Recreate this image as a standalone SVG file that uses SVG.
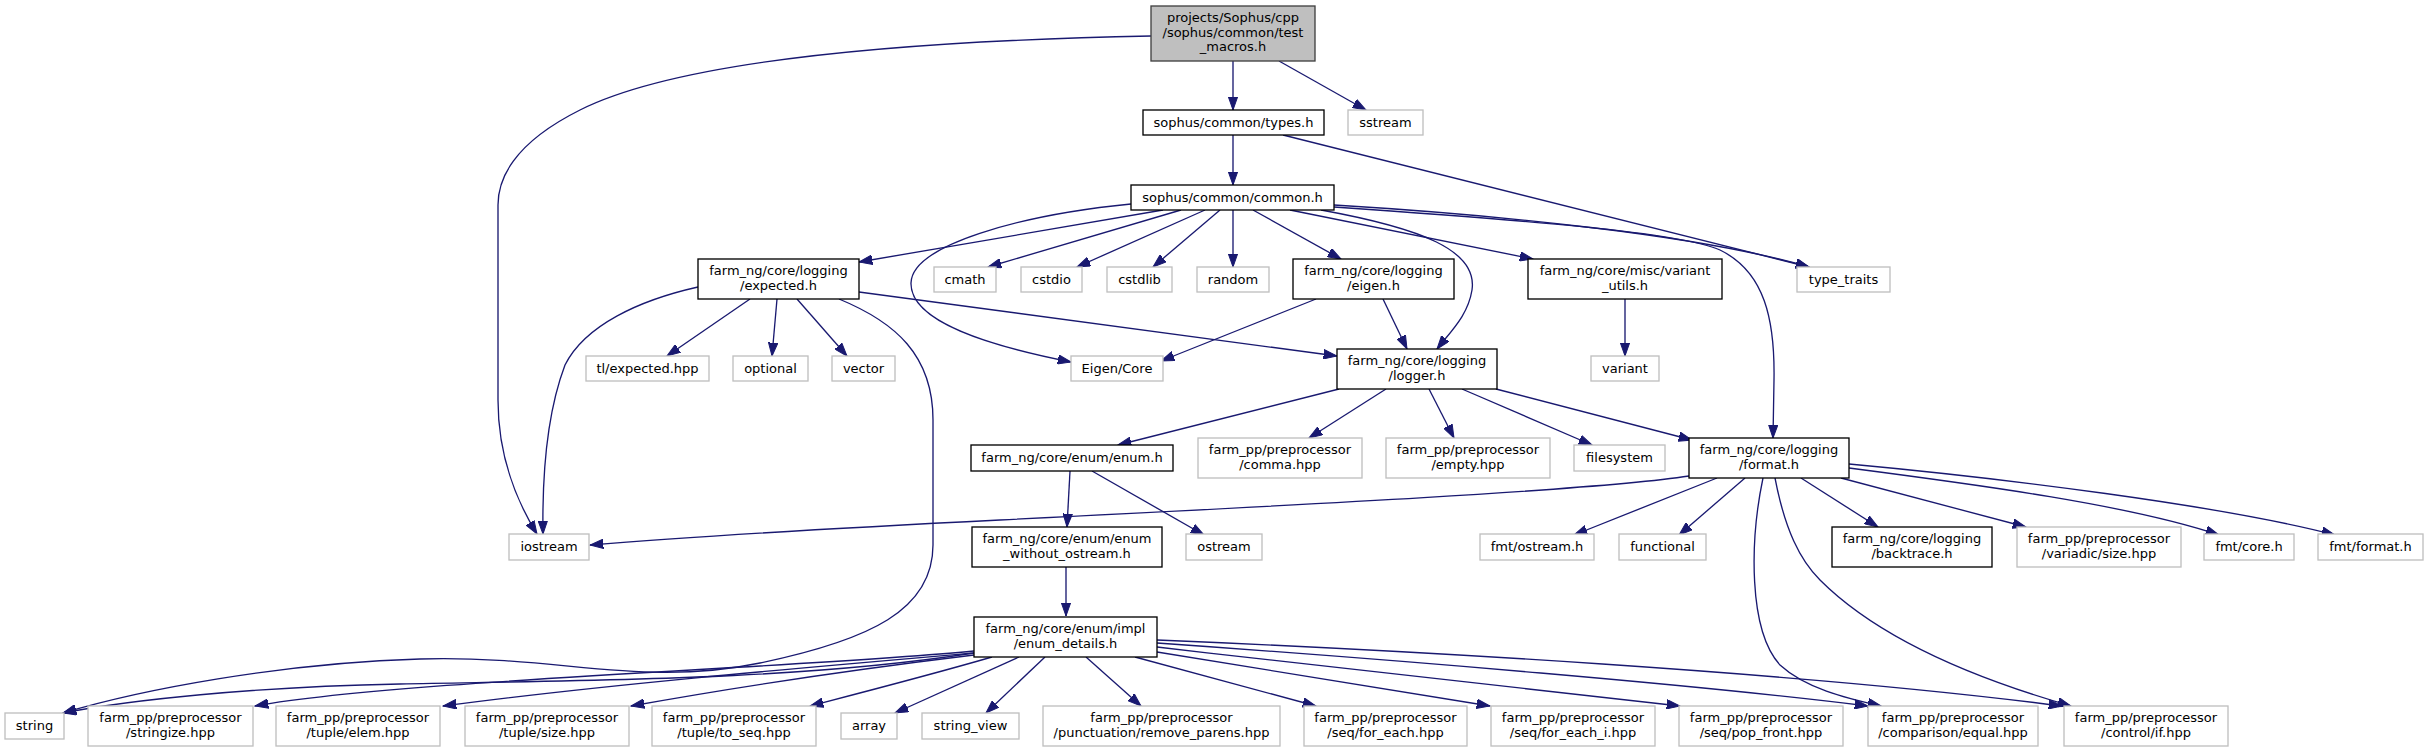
<svg xmlns="http://www.w3.org/2000/svg" width="2429" height="752" viewBox="0 0 2429 752">
<style>
.n rect{fill:#ffffff;stroke:#000000;stroke-width:1.33}
.g rect{fill:#ffffff;stroke:#bfbfbf;stroke-width:1.33}
.r rect{fill:#bfbfbf;stroke:#404040;stroke-width:1.33}
text{font-family:"DejaVu Sans","Liberation Sans",sans-serif;font-size:13px;fill:#000000;text-anchor:middle}
#edges path{fill:none;stroke:#191970;stroke-width:1.33;marker-end:url(#ah)}
</style>
<defs>
<marker id="ah" markerWidth="14" markerHeight="10" refX="13.3" refY="5" orient="auto" markerUnits="userSpaceOnUse">
<path d="M0,0.3 L13.3,5 L0,9.7 z" fill="#191970" stroke="#191970" stroke-width="1"/>
</marker>
</defs>
<rect width="2429" height="752" fill="#ffffff"/>
<g id="edges">
<path d="M1233,61 L1233,110"/>
<path d="M1279,61 L1366,110"/>
<path d="M1151,36 C1000,39 700,50 580,110 C512,144 498,180 498,205 L498,400 C498,455 516,500 537,534"/>
<path d="M1233,135 L1233,185"/>
<path d="M1283,135 L1809,267"/>
<path d="M1163,210 L859,262"/>
<path d="M1131,204 C1020,215 912,245 911,283 C910,322 990,346 1071,362"/>
<path d="M1181,210 L988,267"/>
<path d="M1205,210 L1077,267"/>
<path d="M1220,210 L1153,267"/>
<path d="M1233,210 L1233,267"/>
<path d="M1253,210 L1341,259"/>
<path d="M1321,210 C1420,228 1478,250 1472,290 C1468,315 1452,330 1437,349"/>
<path d="M1290,210 L1533,259"/>
<path d="M1334,205 C1500,215 1700,235 1809,267"/>
<path d="M1334,207 C1520,220 1680,232 1720,250 C1765,272 1775,320 1774,380 L1773,438"/>
<path d="M750,299 L667,356"/>
<path d="M777,299 L772,356"/>
<path d="M797,299 L847,356"/>
<path d="M859,292 L1337,356"/>
<path d="M698,287 C640,300 585,325 565,365 C548,410 542,470 543,534"/>
<path d="M839,299 C895,322 933,355 933,420 L933,545 C933,610 870,640 760,663 C640,688 560,655 420,659 C280,663 140,690 63,713"/>
<path d="M1316,299 L1161,361"/>
<path d="M1383,299 L1407,349"/>
<path d="M1625,299 L1625,356"/>
<path d="M1339,389 L1118,445"/>
<path d="M1386,389 L1309,438"/>
<path d="M1429,389 L1454,438"/>
<path d="M1462,389 L1592,445"/>
<path d="M1496,389 L1692,440"/>
<path d="M1070,471 L1067,527"/>
<path d="M1092,471 L1204,535"/>
<path d="M1066,567 L1066,616"/>
<path d="M1689,476 C1600,490 1300,505 1000,520 C800,530 650,540 590,545"/>
<path d="M1717,478 L1574,535"/>
<path d="M1745,478 L1679,535"/>
<path d="M1801,478 L1878,527"/>
<path d="M1841,478 L2026,527"/>
<path d="M1849,468 C1980,485 2130,505 2219,535"/>
<path d="M1849,464 C2000,478 2220,505 2335,535"/>
<path d="M1763,478 C1750,540 1748,630 1780,665 C1805,688 1845,698 1881,706"/>
<path d="M1775,478 C1785,530 1800,560 1820,580 C1880,640 1980,680 2071,706"/>
<path d="M974,653 C800,680 600,680 400,684 C250,687 130,700 63,713"/>
<path d="M974,651 C800,668 400,680 255,706"/>
<path d="M974,653 C800,668 600,685 443,706"/>
<path d="M974,655 C850,670 720,690 631,706"/>
<path d="M992,657 C930,675 860,693 810,706"/>
<path d="M1019,657 L895,713"/>
<path d="M1045,657 L986,713"/>
<path d="M1086,657 L1141,706"/>
<path d="M1135,657 L1316,706"/>
<path d="M1157,652 L1490,706"/>
<path d="M1157,647 C1350,670 1550,690 1680,706"/>
<path d="M1157,643 C1400,660 1700,685 1868,706"/>
<path d="M1157,640 C1400,650 1800,672 2062,706"/>
</g>
<g id="test_macros" class="r"><rect x="1151" y="6" width="164" height="55"/><text x="1233" y="22">projects/Sophus/cpp</text><text x="1233" y="36.7">/sophus/common/test</text><text x="1233" y="51.3">_macros.h</text></g>
<g id="types" class="n"><rect x="1143" y="110" width="181" height="25"/><text x="1233.5" y="126.5">sophus/common/types.h</text></g>
<g id="sstream" class="g"><rect x="1348" y="110" width="75" height="25"/><text x="1385.5" y="126.5">sstream</text></g>
<g id="common" class="n"><rect x="1131" y="185" width="203" height="25"/><text x="1232.5" y="201.5">sophus/common/common.h</text></g>
<g id="expected" class="n"><rect x="698" y="259" width="161" height="40"/><text x="778.5" y="275.3">farm_ng/core/logging</text><text x="778.5" y="290">/expected.h</text></g>
<g id="cmath" class="g"><rect x="934" y="267" width="62" height="25"/><text x="965" y="283.5">cmath</text></g>
<g id="cstdio" class="g"><rect x="1021" y="267" width="61" height="25"/><text x="1051.5" y="283.5">cstdio</text></g>
<g id="cstdlib" class="g"><rect x="1107" y="267" width="65" height="25"/><text x="1139.5" y="283.5">cstdlib</text></g>
<g id="random" class="g"><rect x="1197" y="267" width="72" height="25"/><text x="1233" y="283.5">random</text></g>
<g id="eigen_h" class="n"><rect x="1293" y="259" width="161" height="40"/><text x="1373.5" y="275.3">farm_ng/core/logging</text><text x="1373.5" y="290">/eigen.h</text></g>
<g id="variant_utils" class="n"><rect x="1528" y="259" width="194" height="40"/><text x="1625" y="275.3">farm_ng/core/misc/variant</text><text x="1625" y="290">_utils.h</text></g>
<g id="type_traits" class="g"><rect x="1797" y="267" width="93" height="25"/><text x="1843.5" y="283.5">type_traits</text></g>
<g id="tl_expected" class="g"><rect x="586" y="356" width="123" height="25"/><text x="647.5" y="372.5">tl/expected.hpp</text></g>
<g id="optional" class="g"><rect x="733" y="356" width="75" height="25"/><text x="770.5" y="372.5">optional</text></g>
<g id="vector" class="g"><rect x="832" y="356" width="63" height="25"/><text x="863.5" y="372.5">vector</text></g>
<g id="eigen_core" class="g"><rect x="1071" y="356" width="92" height="25"/><text x="1117" y="372.5">Eigen/Core</text></g>
<g id="variant" class="g"><rect x="1591" y="356" width="68" height="25"/><text x="1625" y="372.5">variant</text></g>
<g id="logger" class="n"><rect x="1337" y="349" width="160" height="40"/><text x="1417" y="365.3">farm_ng/core/logging</text><text x="1417" y="380">/logger.h</text></g>
<g id="enum_h" class="n"><rect x="971" y="445" width="202" height="26"/><text x="1072" y="462">farm_ng/core/enum/enum.h</text></g>
<g id="comma" class="g"><rect x="1198" y="438" width="164" height="40"/><text x="1280" y="454.3">farm_pp/preprocessor</text><text x="1280" y="469">/comma.hpp</text></g>
<g id="empty" class="g"><rect x="1386" y="438" width="164" height="40"/><text x="1468" y="454.3">farm_pp/preprocessor</text><text x="1468" y="469">/empty.hpp</text></g>
<g id="filesystem" class="g"><rect x="1574" y="445" width="91" height="26"/><text x="1619.5" y="462">filesystem</text></g>
<g id="format_h" class="n"><rect x="1689" y="438" width="160" height="40"/><text x="1769" y="454.3">farm_ng/core/logging</text><text x="1769" y="469">/format.h</text></g>
<g id="iostream" class="g"><rect x="509" y="534" width="80" height="26"/><text x="549" y="551">iostream</text></g>
<g id="enum_without" class="n"><rect x="972" y="527" width="190" height="40"/><text x="1067" y="543.3">farm_ng/core/enum/enum</text><text x="1067" y="558">_without_ostream.h</text></g>
<g id="ostream" class="g"><rect x="1186" y="534" width="76" height="26"/><text x="1224" y="551">ostream</text></g>
<g id="fmt_ostream" class="g"><rect x="1480" y="534" width="114" height="26"/><text x="1537" y="551">fmt/ostream.h</text></g>
<g id="functional" class="g"><rect x="1619" y="534" width="87" height="26"/><text x="1662.5" y="551">functional</text></g>
<g id="backtrace" class="n"><rect x="1832" y="527" width="160" height="40"/><text x="1912" y="543.3">farm_ng/core/logging</text><text x="1912" y="558">/backtrace.h</text></g>
<g id="variadic_size" class="g"><rect x="2017" y="527" width="164" height="40"/><text x="2099" y="543.3">farm_pp/preprocessor</text><text x="2099" y="558">/variadic/size.hpp</text></g>
<g id="fmt_core" class="g"><rect x="2204" y="534" width="90" height="26"/><text x="2249" y="551">fmt/core.h</text></g>
<g id="fmt_format" class="g"><rect x="2318" y="534" width="105" height="26"/><text x="2370.5" y="551">fmt/format.h</text></g>
<g id="enum_details" class="n"><rect x="974" y="617" width="183" height="40"/><text x="1065.5" y="633.3">farm_ng/core/enum/impl</text><text x="1065.5" y="648">/enum_details.h</text></g>
<g id="string" class="g"><rect x="5" y="713" width="59" height="26"/><text x="34.5" y="730">string</text></g>
<g id="stringize" class="g"><rect x="88" y="706" width="165" height="40"/><text x="170.5" y="722.3">farm_pp/preprocessor</text><text x="170.5" y="737">/stringize.hpp</text></g>
<g id="tuple_elem" class="g"><rect x="276" y="706" width="164" height="40"/><text x="358" y="722.3">farm_pp/preprocessor</text><text x="358" y="737">/tuple/elem.hpp</text></g>
<g id="tuple_size" class="g"><rect x="465" y="706" width="164" height="40"/><text x="547" y="722.3">farm_pp/preprocessor</text><text x="547" y="737">/tuple/size.hpp</text></g>
<g id="tuple_to_seq" class="g"><rect x="652" y="706" width="164" height="40"/><text x="734" y="722.3">farm_pp/preprocessor</text><text x="734" y="737">/tuple/to_seq.hpp</text></g>
<g id="array" class="g"><rect x="841" y="713" width="56" height="26"/><text x="869" y="730">array</text></g>
<g id="string_view" class="g"><rect x="922" y="713" width="97" height="26"/><text x="970.5" y="730">string_view</text></g>
<g id="remove_parens" class="g"><rect x="1043" y="706" width="237" height="40"/><text x="1161.5" y="722.3">farm_pp/preprocessor</text><text x="1161.5" y="737">/punctuation/remove_parens.hpp</text></g>
<g id="seq_for_each" class="g"><rect x="1304" y="706" width="163" height="40"/><text x="1385.5" y="722.3">farm_pp/preprocessor</text><text x="1385.5" y="737">/seq/for_each.hpp</text></g>
<g id="seq_for_each_i" class="g"><rect x="1491" y="706" width="164" height="40"/><text x="1573" y="722.3">farm_pp/preprocessor</text><text x="1573" y="737">/seq/for_each_i.hpp</text></g>
<g id="seq_pop_front" class="g"><rect x="1679" y="706" width="164" height="40"/><text x="1761" y="722.3">farm_pp/preprocessor</text><text x="1761" y="737">/seq/pop_front.hpp</text></g>
<g id="comparison_equal" class="g"><rect x="1868" y="706" width="170" height="40"/><text x="1953" y="722.3">farm_pp/preprocessor</text><text x="1953" y="737">/comparison/equal.hpp</text></g>
<g id="control_if" class="g"><rect x="2064" y="706" width="164" height="40"/><text x="2146" y="722.3">farm_pp/preprocessor</text><text x="2146" y="737">/control/if.hpp</text></g>
</svg>
